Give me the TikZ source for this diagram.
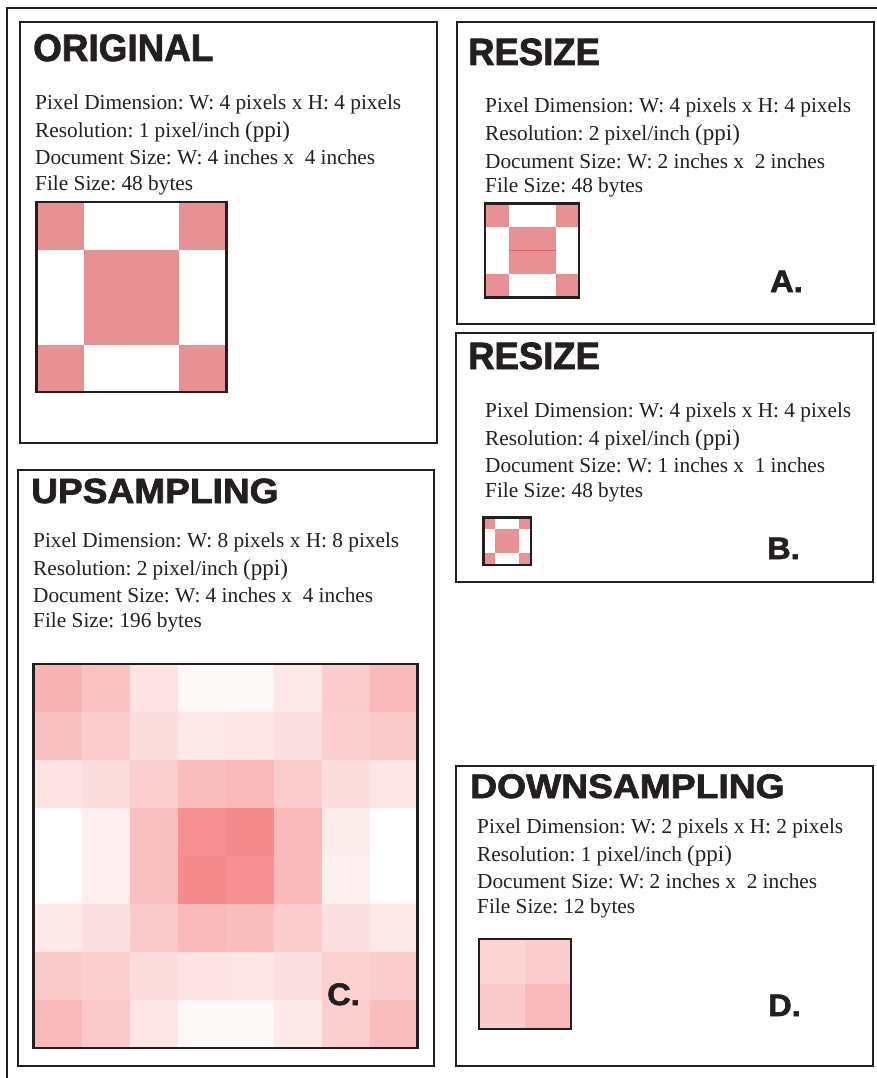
\documentclass[tikz,border=0pt]{standalone}
\usepackage{fontspec}
\setmainfont{Liberation Serif}
\setsansfont{Liberation Sans}
\newfontfamily\heavy[BoldFeatures={FakeBold=2}]{Liberation Sans}
\usetikzlibrary{positioning}
\usepackage{xcolor}
\frenchspacing

\definecolor{frm}{HTML}{231F20}
\definecolor{pk}{RGB}{231,145,148}
\definecolor{up}{RGB}{244,128,130}
\definecolor{seam}{RGB}{214,96,100}

% 4x4 quilt: corners and centre filled
\newcommand\quilt[3]{%
  \foreach \i/\j in {0/0,3/0,0/3,3/3}
    \fill[pk] ({#1+\i*#3},{#2+\j*#3}) rectangle +(#3,#3);
  \fill[pk] ({#1+#3},{#2+#3}) rectangle +({2*#3},{2*#3});
  \draw[pix] (#1,#2) rectangle +({4*#3},{4*#3});}

\begin{document}
\begin{tikzpicture}[x=1pt,y=-1pt,
  panel/.style={draw=frm,line width=2.6pt},
  pix/.style={draw=frm,line width=2.2pt},
  ttl/.style={anchor=base west,inner sep=0pt,text=frm,
    font=\heavy\bfseries\fontsize{38}{38}\selectfont},
  info/.style={anchor=base west,inner sep=0pt,text=frm,
    font=\fontsize{21.3}{21.3}\selectfont},
  tag/.style={anchor=base west,inner sep=0pt,text=frm,xscale=1.05,
    font=\heavy\bfseries\fontsize{31}{31}\selectfont}]
  \useasboundingbox (0,0) rectangle (877,1078);
  \draw[frm,line width=2pt] (6.5,1078) |- (877,8.5);

  % panels
  \draw[panel] (20,22) rectangle (437,443);
  \draw[panel] (457,22) rectangle (874,324);
  \draw[panel] (456,333) rectangle (873,582);
  \draw[panel] (18,470) rectangle (434,1066);
  \draw[panel] (456,766) rectangle (873,1066);

  \node[ttl,xscale=0.97] (orig) at (33,61) {ORIGINAL};
  \node[ttl,xscale=0.96] (resa) at (468,65) {RESIZE};
  \node[ttl,xscale=0.96] (resb) at (468,369) {RESIZE};
  \node[ttl,xscale=1.06,font=\heavy\bfseries\fontsize{35}{35}\selectfont] (ups) at (31,503) {UPSAMPLING};
  \node[ttl,xscale=1.095,font=\heavy\bfseries\fontsize{34}{34}\selectfont] (downs) at (470,798) {DOWNSAMPLING};

  \foreach \p/\x/\y/\w/\r/\d/\f in {orig/35/110/4/1/4/48, resa/485/113/4/2/2/48,
      resb/485/417/4/4/1/48, ups/33/547/8/2/4/196, downs/477/833/2/1/2/12} {
    \node[info] (\p-a) at (\x,\y) {Pixel Dimension: W: \w\ pixels x H: \w\ pixels};
    \node[info] (\p-b) at (\x,\y+28) {Resolution: \r\ pixel/inch {\fontsize{23}{23}\selectfont(ppi)}};
    \node[info] (\p-c) at (\x,\y+55) {Document Size: W: \d\ inches x\ \ \d\ inches};
    \node[info] (\p-d) at (\x,\y+80) {File Size: \f\ bytes};
  }

  % original and resized
  \quilt{36.5}{202}{47.5}
  \quilt{485}{203.5}{23.5}
  \draw[seam,line width=1pt] (508.5,250.5) -- (555.5,250.5);
  \quilt{483.5}{517.5}{11.8}

  % upsampled 8x8
  \foreach \row [count=\r from 0] in {
      {60,48,22,5,5,18,40,55},
      {50,40,27,18,20,25,38,42},
      {22,27,38,52,55,40,28,20},
      {0,12,50,88,92,55,15,0},
      {0,12,50,92,88,55,12,0},
      {17,25,42,55,52,40,25,18},
      {42,38,28,22,20,25,36,40},
      {55,42,20,5,5,17,38,52}} {
    \foreach \v [count=\c from 0] in \row
      \fill[up!\v] ({33.5+48*\c},{664+48*\r}) rectangle +(48,48);
  }
  \draw[pix] (33.5,664) rectangle (417.5,1048);

  % downsampled 2x2
  \foreach \v/\c/\r in {35/0/0,40/1/0,42/0/1,55/1/1}
    \fill[up!\v] ({479+46*\c},{939+45*\r}) rectangle +(46,45);
  \draw[pix] (479,939) rectangle (571,1029);

  \node[tag] (ta) at (770,292) {A.};
  \node[tag] (tb) at (767,559) {B.};
  \node[tag] (tc) at (327,1005) {C.};
  \node[tag] (td) at (768,1016) {D.};
\end{tikzpicture}
\end{document}
